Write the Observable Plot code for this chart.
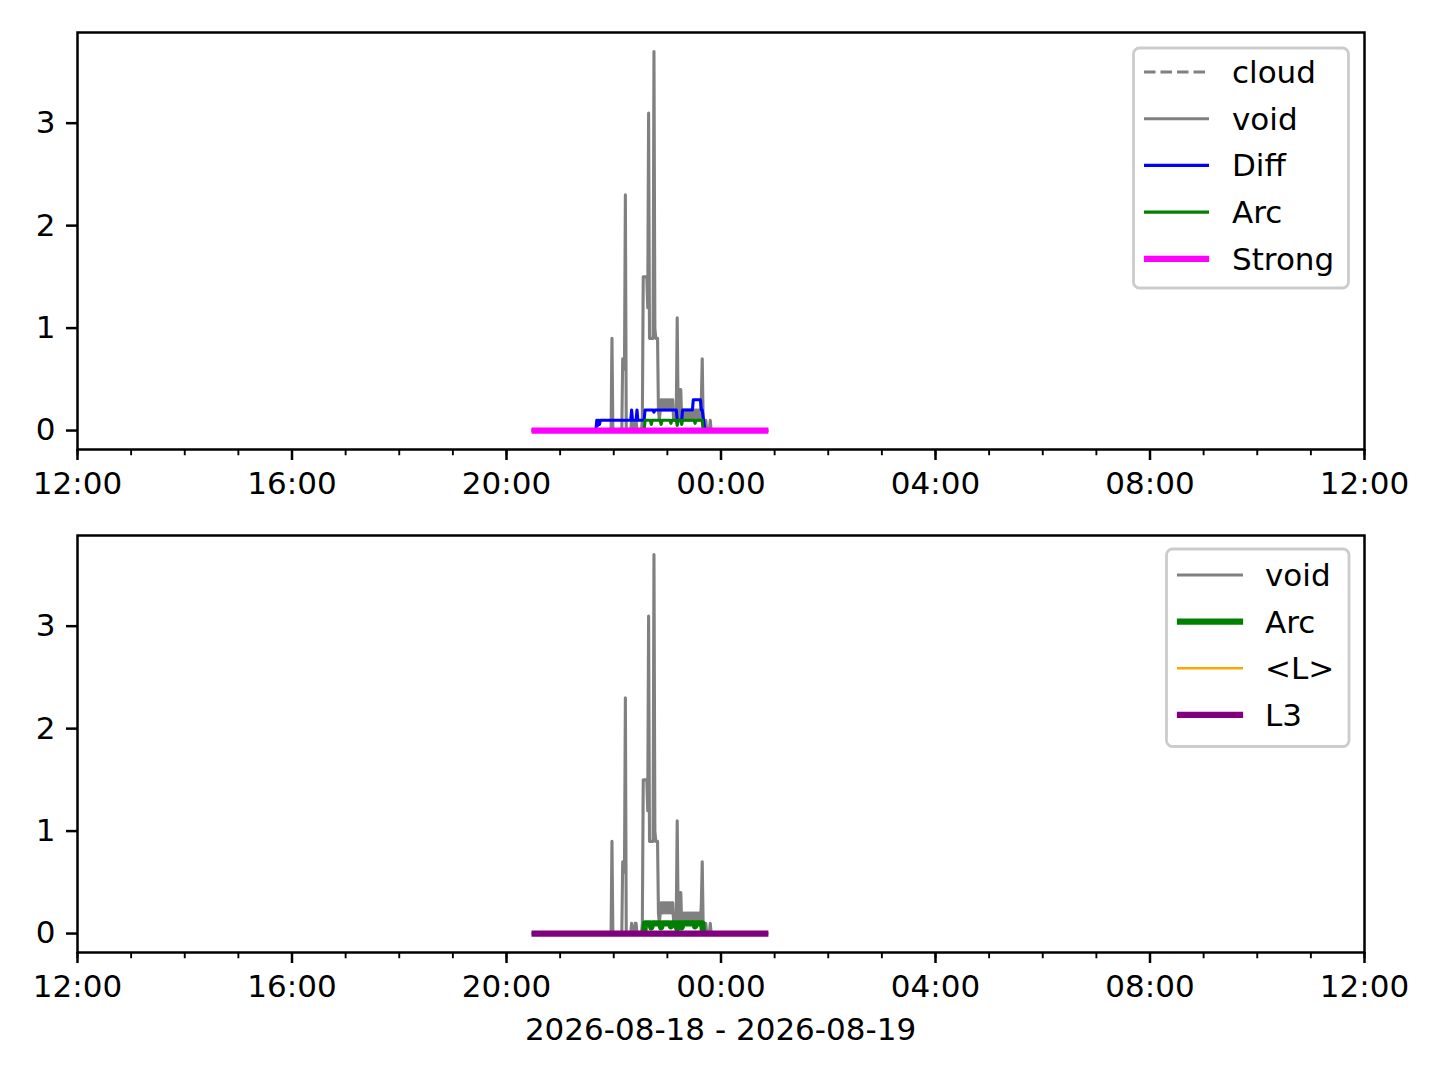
<!DOCTYPE html>
<html><head><meta charset="utf-8">
<script src="https://cdn.jsdelivr.net/npm/d3@7"></script>
<script src="https://cdn.jsdelivr.net/npm/@observablehq/plot@0.6"></script>
<style>
body{margin:0;background:#fff;}
#root{position:relative;width:1440px;height:1080px;overflow:hidden;background:#fff;font-family:"DejaVu Sans";}
.panel{position:absolute;left:0;}
#overlay{position:absolute;left:0;top:0;pointer-events:none;}
</style></head><body><div id="root"></div>
<script>
// ---------- data ----------
const xTickLabels = ["12:00","16:00","20:00","00:00","04:00","08:00","12:00"];
const yTicks = [0, 1, 2, 3];
const xLabel = "2026-08-18 - 2026-08-19";

const voidTimes = ["20:28","21:57","21:58","21:59","22:09","22:10","22:11","22:12","22:13","22:14",
  "22:19","22:20","22:21","22:23","22:24","22:25","22:26","22:31","22:32","22:33","22:34","22:35","22:36","22:37","22:38",
  "22:39","22:40","22:41","22:42","22:43","22:44","22:45","22:46","22:47","22:48","22:49","22:50","22:51","22:52",
  "22:53","22:54","22:55","22:56","22:57","22:58","22:59","23:00","23:01","23:02","23:03","23:04","23:05","23:06",
  "23:07","23:08","23:09","23:10","23:11","23:12","23:13","23:14","23:15","23:16","23:17","23:18","23:19","23:20",
  "23:21","23:22","23:23","23:24","23:25","23:26","23:27","23:28","23:29","23:30","23:31","23:32","23:33","23:34",
  "23:35","23:36","23:37","23:38","23:39","23:40","23:41","23:42","23:43","23:44","23:47","23:48","23:49","00:53"];
const voidValues = [0,0,0.9,0,0,0.7,0.7,0.6,2.3,0,
  0,0.1,0,0,0.1,0.1,0,0,0.1,1.5,1.5,1.5,1.5,1.5,1.2,
  3.1,0.9,0.9,0.9,0.9,0.9,3.7,1.0,0.9,0.9,0.9,0.2,0.1,0.2,
  0.3,0.3,0.2,0.3,0.3,0.2,0.3,0.3,0.2,0.3,0.3,0.2,0.3,0.3,
  0.1,0.2,0.1,0.2,1.1,0.2,0.1,0.4,0.4,0.1,0.2,0.1,0.2,0.2,
  0.1,0.2,0.2,0.1,0.2,0.2,0.1,0.2,0.2,0.1,0.2,0.2,0.2,0.1,
  0.2,0.2,0.1,0.3,0.7,0.1,0.1,0,0.1,0,0,0.1,0,0];

const diffTimes = ["21:40","21:41","21:42","21:43","21:44","21:45","22:19","22:20","22:21","22:25","22:26","22:27",
  "22:34","22:35","22:44","22:45","22:46","23:10","23:11","23:16","23:17","23:28","23:29","23:37","23:38","23:39","23:42"];
const diffValues = [0,0.1,0.05,0.1,0.06,0.1,0.1,0.2,0.1,0.1,0.2,0.1,
  0.1,0.2,0.2,0.18,0.2,0.2,0.1,0.1,0.2,0.2,0.3,0.3,0.2,0.2,0];

const arcTimes = ["22:34","22:35","22:41","22:42","22:43","22:52","22:53","22:54","23:03","23:04","23:05",
  "23:10","23:11","23:12","23:15","23:16","23:17","23:30","23:31","23:32","23:39","23:40"];
const arcValues = [0,0.1,0.1,0.06,0.1,0.1,0.06,0.1,0.1,0.07,0.1,
  0.1,0.05,0.1,0.1,0.06,0.1,0.1,0.07,0.1,0.1,0];

const cloudTimes = ["20:28","00:53"];  const cloudValues = [0, 0];
const strongTimes = ["20:28","00:53"]; const strongValues = [0, 0];
const meanLTimes = ["20:28","00:53"];  const meanLValues = [0, 0];
const l3Times = ["20:28","00:53"];     const l3Values = [0, 0];

// ---------- helpers ----------
function parseT(s){ const [h,m] = s.split(":").map(Number); return new Date(Date.UTC(2026, 7, h < 12 ? 19 : 18, h, m)); }
function rows(times, values){ return times.map((s,i)=>({t: parseT(s), v: values[i]})); }
const start = new Date(Date.UTC(2026,7,18,12)), end = new Date(Date.UTC(2026,7,19,12));
const majorDates = d3.utcHour.every(4).range(start, new Date(+end + 1));
const minorDates = d3.utcHour.range(start, new Date(+end + 1));
const labelOf = new Map(majorDates.map((d,i)=>[+d, xTickLabels[i]]));

const topSeries = [
  {name:"cloud", data: rows(cloudTimes, cloudValues), color:"#808080", w:3.1, dash:"11.5,5"},
  {name:"void", data: rows(voidTimes, voidValues), color:"#808080", w:3.1},
  {name:"Diff", data: rows(diffTimes, diffValues), color:"#0000ff", w:3.1},
  {name:"Arc", data: rows(arcTimes, arcValues), color:"#008000", w:3.1},
  {name:"Strong", data: rows(strongTimes, strongValues), color:"#ff00ff", w:6.25}
];
const botSeries = [
  {name:"void", data: rows(voidTimes, voidValues), color:"#808080", w:3.1},
  {name:"Arc", data: rows(arcTimes, arcValues), color:"#008000", w:6.25},
  {name:"<L>", data: rows(meanLTimes, meanLValues), color:"#ffa500", w:2.6},
  {name:"L3", data: rows(l3Times, l3Values), color:"#800080", w:6.25}
];

function panel(series){
  return Plot.plot({
    width:1440, height:500, marginLeft:77, marginRight:76, marginTop:32, marginBottom:51,
    x:{type:"utc", domain:[start, end]},
    y:{domain:[-0.185, 3.885]},
    style:{fontFamily:"DejaVu Sans", fontSize:"31px", color:"black", background:"transparent", overflow:"visible"},
    marks:[
      ...series.map(s => Plot.line(s.data, {x:"t", y:"v", stroke:s.color, strokeWidth:s.w,
          strokeDasharray:s.dash, strokeLinejoin:"round", strokeLinecap:"butt"})),
      Plot.frame({stroke:"black", strokeWidth:2.5}),
      Plot.axisX({ticks:minorDates, tickSize:6.25, fill:"none", strokeWidth:1.9, label:null}),
      Plot.axisX({ticks:majorDates, tickSize:11, tickPadding:11, strokeWidth:2.5, fontSize:31,
          tickFormat:d => labelOf.get(+d), label:null}),
      Plot.axisY({ticks:yTicks, tickSize:11, tickPadding:11, strokeWidth:2.5, fontSize:31,
          tickFormat:d => String(d), label:null})
    ]
  });
}

const root = document.getElementById("root");
const p1 = panel(topSeries); p1.classList.add("panel"); p1.style.top = "0px"; root.appendChild(p1);
const p2 = panel(botSeries); p2.classList.add("panel"); p2.style.top = "503px"; root.appendChild(p2);

// ---------- legends & x label overlay ----------
const ov = d3.select(root).append("svg").attr("id","overlay").attr("width",1440).attr("height",1080)
  .style("font-family","DejaVu Sans").style("font-size","31px");

function legend(series, box, hx0, hx1, tx, y0, step){
  const g = ov.append("g");
  g.append("rect").attr("x",box.x).attr("y",box.y).attr("width",box.w).attr("height",box.h)
    .attr("rx",6).attr("fill","white").attr("fill-opacity",0.8).attr("stroke","#cccccc").attr("stroke-width",2.8);
  series.forEach((s,i)=>{
    const y = y0 + i*step;
    const thick = s.w > 4;
    g.append("line").attr("x1", thick ? hx0+3 : hx0).attr("x2", thick ? hx1-3 : hx1).attr("y1",y).attr("y2",y)
      .attr("stroke",s.color).attr("stroke-width",s.w).attr("stroke-dasharray",s.dash || null)
      .attr("stroke-linecap", thick ? "square" : "butt");
    g.append("text").attr("x",tx).attr("y",y+11).attr("fill","black").text(s.name);
  });
}
legend(topSeries, {x:1133.5, y:48, w:215, h:240}, 1144, 1209, 1232, 72, 46.7);
legend(botSeries, {x:1166.5, y:549, w:182.5, h:197.5}, 1177, 1243, 1265, 575, 46.6);

ov.append("text").attr("x",720.5).attr("y",1040).attr("text-anchor","middle").attr("fill","black").text(xLabel);
</script>
</body></html>
